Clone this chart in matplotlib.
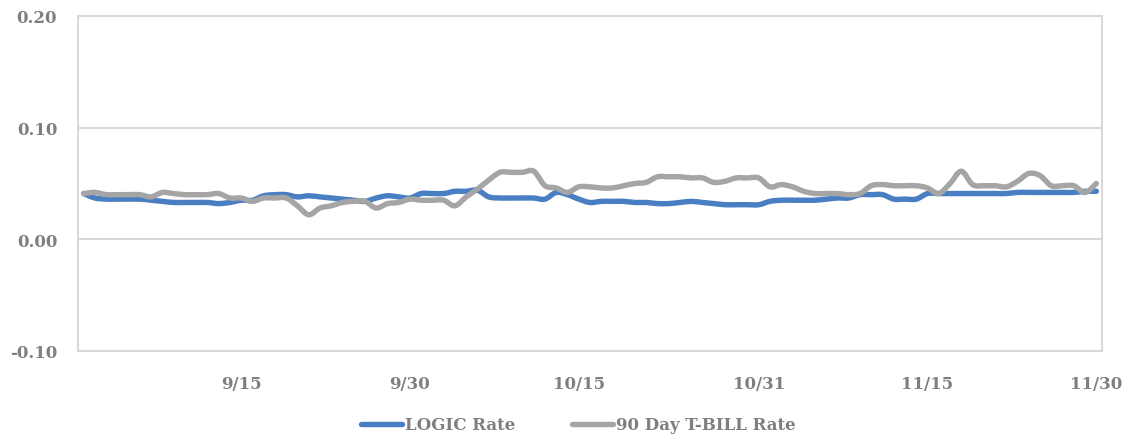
import matplotlib
matplotlib.use("Agg")
import matplotlib.pyplot as plt
import matplotlib.dates as mdates
from matplotlib.path import Path
from matplotlib.patches import PathPatch
from matplotlib.lines import Line2D
import numpy as np
import pandas as pd

# daily values 9/1 .. 11/30
dates = pd.date_range("2020-09-01", "2020-11-30", freq="D")

logic_rate = [
    0.041, 0.037, 0.036, 0.036, 0.036, 0.036, 0.035, 0.034, 0.033, 0.033,
    0.033, 0.033, 0.032, 0.033, 0.035, 0.035, 0.039, 0.040, 0.040, 0.038,
    0.039, 0.038, 0.037, 0.036, 0.035, 0.034, 0.037, 0.039, 0.038, 0.037,
    0.041, 0.041, 0.041, 0.043, 0.043, 0.044, 0.038, 0.037, 0.037, 0.037,
    0.037, 0.036, 0.042, 0.040, 0.036, 0.033, 0.034, 0.034, 0.034, 0.033,
    0.033, 0.032, 0.032, 0.033, 0.034, 0.033, 0.032, 0.031, 0.031, 0.031,
    0.031, 0.034, 0.035, 0.035, 0.035, 0.035, 0.036, 0.037, 0.037, 0.040,
    0.040, 0.040, 0.036, 0.036, 0.036, 0.041, 0.041, 0.041, 0.041, 0.041,
    0.041, 0.041, 0.041, 0.042, 0.042, 0.042, 0.042, 0.042, 0.042, 0.043,
    0.043,
]

tbill_rate = [
    0.041, 0.042, 0.040, 0.040, 0.040, 0.040, 0.038, 0.042, 0.041, 0.040,
    0.040, 0.040, 0.041, 0.037, 0.037, 0.034, 0.037, 0.037, 0.037, 0.030,
    0.022, 0.028, 0.030, 0.033, 0.034, 0.034, 0.028, 0.032, 0.033, 0.036,
    0.035, 0.035, 0.035, 0.030, 0.038, 0.045, 0.053, 0.060, 0.060, 0.060,
    0.061, 0.048, 0.046, 0.042, 0.047, 0.047, 0.046, 0.046, 0.048, 0.050,
    0.051, 0.056, 0.056, 0.056, 0.055, 0.055, 0.051, 0.052, 0.055, 0.055,
    0.055, 0.047, 0.049, 0.047, 0.043, 0.041, 0.041, 0.041, 0.040, 0.041,
    0.048, 0.049, 0.048, 0.048, 0.048, 0.046, 0.041, 0.050, 0.061, 0.049,
    0.048, 0.048, 0.047, 0.052, 0.059, 0.057, 0.048, 0.048, 0.048, 0.042,
    0.050,
]

yticks = [-0.10, 0.00, 0.10, 0.20]
xtick_dates = ["2020-09-15", "2020-09-30", "2020-10-15", "2020-10-31",
               "2020-11-15", "2020-11-30"]

TEXT = '#7F7F7F'
GRID = '#D9D9D9'
BLUE = '#4A7EC2'
GREY = '#A5A5A5'
FONT = dict(family='DejaVu Serif', weight='bold', size=12)
LW = 3.9


def smooth_path(x, y, t=1 / 6):
    # bezier through the points, like excel's "smoothed line"
    x, y = np.asarray(x, float), np.asarray(y, float)
    verts, codes = [(x[0], y[0])], [Path.MOVETO]
    n = len(x)
    for i in range(n - 1):
        i0, i3 = max(i - 1, 0), min(i + 2, n - 1)
        c1 = (x[i] + (x[i + 1] - x[i0]) * t, y[i] + (y[i + 1] - y[i0]) * t)
        c2 = (x[i + 1] - (x[i3] - x[i]) * t, y[i + 1] - (y[i3] - y[i]) * t)
        verts += [c1, c2, (x[i + 1], y[i + 1])]
        codes += [Path.CURVE4] * 3
    return Path(verts, codes)


fig = plt.figure(figsize=(11.24, 4.39), dpi=100)
ax = fig.add_axes([0.0694, 0.1982, 0.9110, 0.7631])

xnum = mdates.date2num(dates)
for vals, col, z in ((logic_rate, BLUE, 3), (tbill_rate, GREY, 4)):
    ax.add_patch(PathPatch(smooth_path(xnum, vals), facecolor='none',
                           edgecolor=col, lw=LW, capstyle='round',
                           joinstyle='round', zorder=z))

ax.set_ylim(-0.10, 0.20)
ax.set_yticks(yticks)
ax.set_yticklabels([f"{v:.2f}" for v in yticks], color=TEXT, fontdict=FONT)

ax.xaxis_date()
ax.set_xlim(xnum[0] - 0.5, xnum[-1] + 0.5)
xt = pd.to_datetime(xtick_dates)
ax.set_xticks(mdates.date2num(xt))
ax.set_xticklabels([f"{d.month}/{d.day}" for d in xt], color=TEXT, fontdict=FONT)

ax.tick_params(axis='y', length=0, pad=15)
ax.tick_params(axis='x', length=0, pad=17)
ax.grid(axis='y', color=GRID, lw=1.5)
for s in ax.spines.values():
    s.set_color(GRID)
    s.set_linewidth(1.5)

handles = [Line2D([], [], color=BLUE, lw=LW, solid_capstyle='round', label='LOGIC Rate'),
           Line2D([], [], color=GREY, lw=LW, solid_capstyle='round', label='90 Day T-BILL Rate')]
fig.legend(handles=handles, loc='center', bbox_to_anchor=(578 / 1124, 1 - 426 / 439),
           ncol=2, frameon=False, prop=FONT, labelcolor=TEXT, handlelength=2.5,
           handletextpad=0.15, columnspacing=3.4)

fig.savefig("out.png", dpi=100)
